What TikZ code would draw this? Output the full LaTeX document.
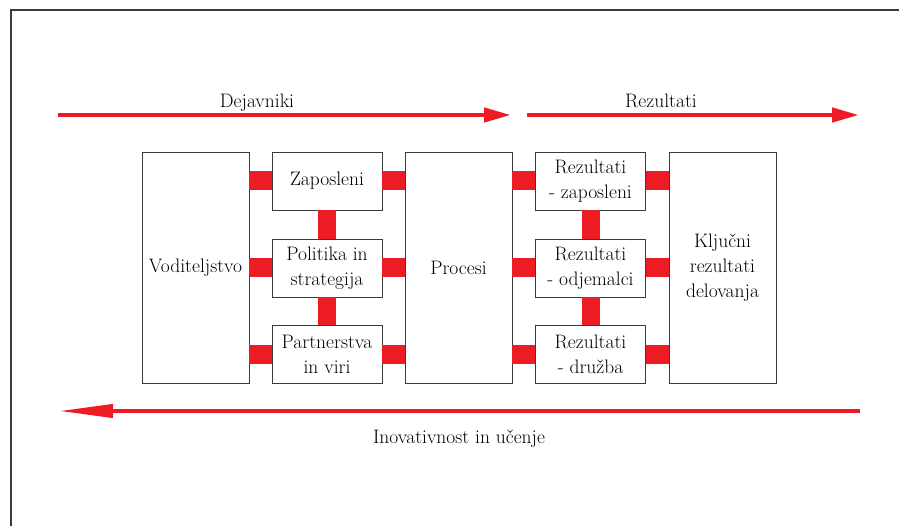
\documentclass[tikz,border=0pt]{standalone}
\usepackage{fontspec}
\usepackage{xcolor}
\usepackage{tikz}
\usetikzlibrary{arrows.meta,positioning}

\definecolor{efqmred}{HTML}{ED1C24}
\definecolor{boxgray}{HTML}{3A3A3A}

\begin{document}
\begin{tikzpicture}[x=1pt,y=-1pt,
  txt/.style={font=\fontsize{19.5}{25}\selectfont,align=center,inner sep=0pt},
  tall/.style={txt,draw=boxgray,line width=0.9pt,fill=white,minimum width=107pt,minimum height=231pt},
  small/.style={txt,draw=boxgray,line width=0.9pt,fill=white,minimum width=110pt,minimum height=58pt},
  hbar/.style={efqmred,line width=19pt},
  vbar/.style={efqmred,line width=18pt},
  flow/.style={efqmred,line width=4.5pt,-{Triangle[length=27pt,width=14pt]}},
  back/.style={efqmred,line width=4pt,-{Triangle[length=54pt,width=13pt]}}]
  \useasboundingbox (0,0) rectangle (899,526);
  \draw[boxgray,line width=1.5pt] (899,10)--(11,10)--(11,526);

  % enablers
  \node[tall] (vod) at (195.5,267.5) {Voditeljstvo};
  \node[small] (zap) at (327,181) {Zaposleni};
  \node[small] (pol) at (327,268) {Politika in\\strategija};
  \node[small] (par) at (327,354.5) {Partnerstva\\in viri};
  \node[tall] (pro) at (458.5,267.5) {Procesi};

  % results
  \node[small] (rzap) at (590.5,181) {Rezultati\\- zaposleni};
  \node[small] (rodj) at (590.5,268) {Rezultati\\- odjemalci};
  \node[small] (rdru) at (590.5,354.5) {Rezultati\\- družba};
  \node[tall] (klj) at (722.5,267.5) {Ključni\\rezultati\\delovanja};

  % red links
  \foreach \b in {zap,pol,par}{
    \draw[hbar] (\b.west) -- (\b.west -| vod.east);
    \draw[hbar] (\b.east) -- (\b.east -| pro.west);
  }
  \foreach \b in {rzap,rodj,rdru}{
    \draw[hbar] (\b.west) -- (\b.west -| pro.east);
    \draw[hbar] (\b.east) -- (\b.east -| klj.west);
  }
  \draw[vbar] (zap.south) -- (pol.north);
  \draw[vbar] (pol.south) -- (par.north);
  \draw[vbar] (rzap.south) -- (rodj.north);
  \draw[vbar] (rodj.south) -- (rdru.north);

  % arrows
  \coordinate (d1) at (58,115);
  \coordinate (d2) at (511,115);
  \coordinate (r1) at (527,115);
  \coordinate (r2) at (859,115);
  \coordinate (i1) at (860,411);
  \coordinate (i2) at (59,411);
  \draw[flow] (d1) -- (d2);
  \draw[flow] (r1) -- (r2);
  \draw[back] (i1) -- (i2);
  \node[txt,anchor=base] (dej) at (257,108) {Dejavniki};
  \node[txt,anchor=base] (rez) at (661,108) {Rezultati};
  \node[txt,anchor=base] (ino) at (459,443) {Inovativnost in učenje};
\end{tikzpicture}
\end{document}
